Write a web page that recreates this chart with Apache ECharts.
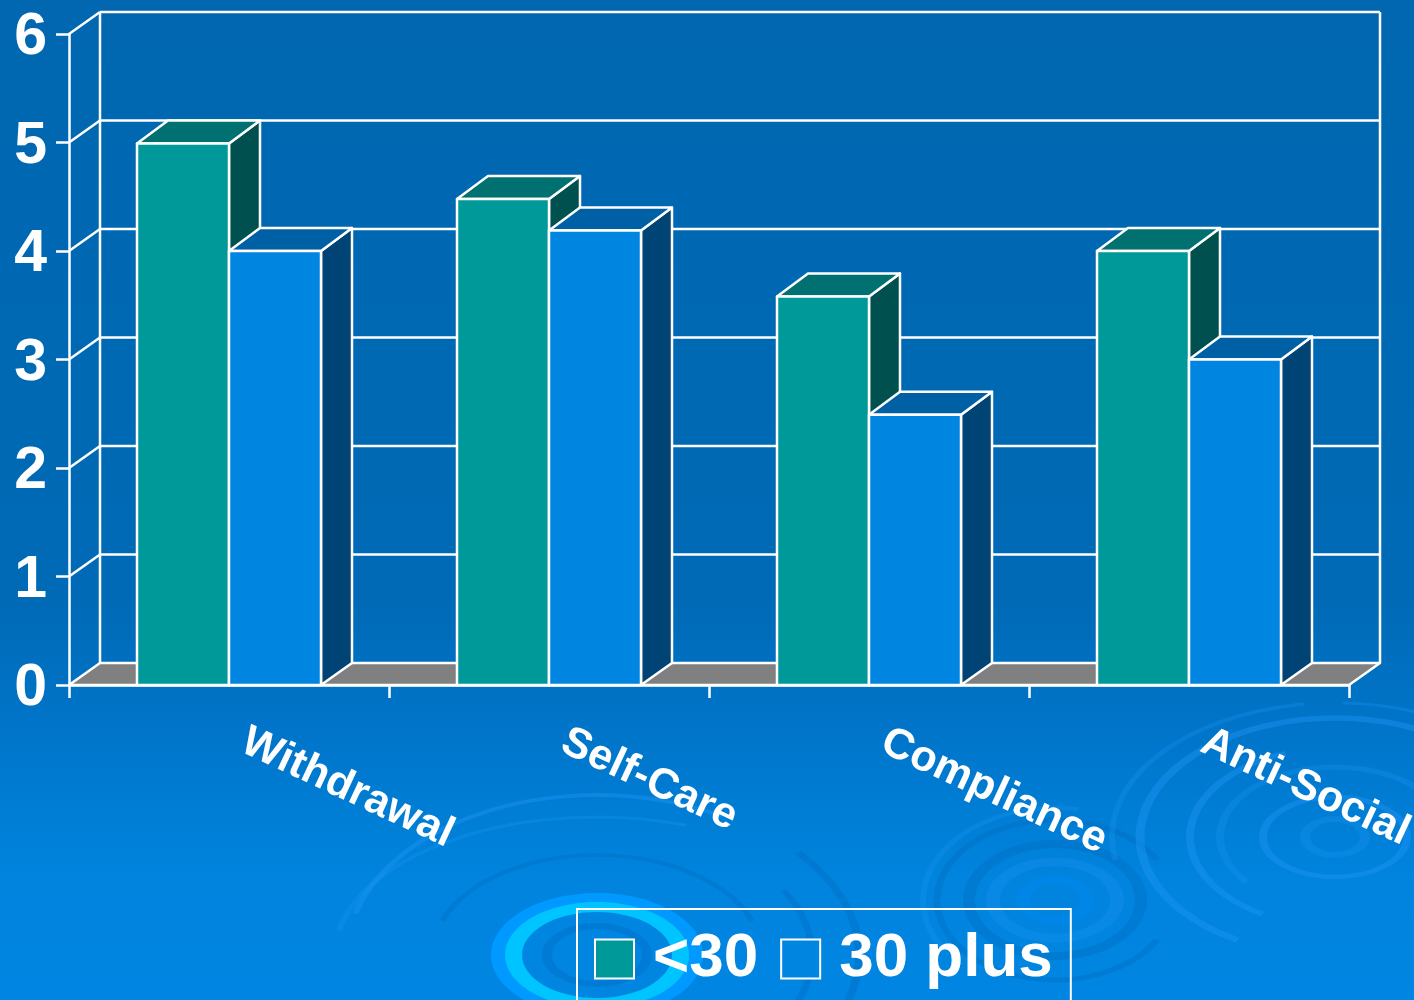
<!DOCTYPE html>
<html>
<head>
<meta charset="utf-8">
<style>html,body{margin:0;padding:0;background:#0085e2}#c{width:1414px;height:1000px}</style>
<script src="https://cdn.jsdelivr.net/npm/echarts@6/dist/echarts.min.js"></script>
</head>
<body>
<div id="c"></div>
<script>
var categories = ['Withdrawal', 'Self-Care', 'Compliance', 'Anti-Social'];
var under30 = [4.99, 4.48, 3.58, 4];
var plus30 = [4, 4.19, 2.49, 3];
var yTicks = [0, 1, 2, 3, 4, 5, 6];

var DX = 31, DY = 22, BAR = 92;
var FONT = '"Liberation Sans", Arial, sans-serif';
var WHITE = '#ffffff';
var LW = 2.5;

function ln(x1, y1, x2, y2) {
  return {type: 'line', shape: {x1: x1, y1: y1, x2: x2, y2: y2}, style: {stroke: WHITE, lineWidth: LW, fill: null}};
}
function poly(pts, fill) {
  return {type: 'polygon', shape: {points: pts}, style: {fill: fill, stroke: WHITE, lineWidth: LW, lineJoin: 'round'}};
}

function renderWall(params, api) {
  var g = params.coordSys;
  var v = api.value(0);
  var y = api.coord([0, v])[1];
  var left = g.x, right = g.x + g.width;
  var kids = [];
  if (v === 0) {
    kids.push(poly([[left, y], [left + DX, y - DY], [right + DX, y - DY], [right, y]], '#808080'));
  } else {
    kids.push(ln(left, y, left + DX, y - DY));
    kids.push(ln(left + DX, y - DY, right + DX, y - DY));
  }
  if (v === 6) {
    var y0 = api.coord([0, 0])[1];
    kids.push(ln(left + DX, y - DY, left + DX, y0 - DY));
    kids.push(ln(right + DX, y - DY, right + DX, y0 - DY));
  }
  return {type: 'group', children: kids};
}

function barRenderer(dir, front, top, side) {
  return function (params, api) {
    var cat = api.value(0), val = api.value(1);
    var c = api.coord([cat, val]), b = api.coord([cat, 0]);
    var x0 = dir < 0 ? c[0] - BAR : c[0];
    var x1 = x0 + BAR;
    var yt = c[1], yb = b[1];
    var dy = DY + 1;
    return {type: 'group', children: [
      poly([[x1, yb], [x1 + DX, yb - DY], [x1 + DX, yt - dy], [x1, yt]], side),
      poly([[x0, yt], [x0 + DX, yt - dy], [x1 + DX, yt - dy], [x1, yt]], top),
      poly([[x0, yt], [x1, yt], [x1, yb], [x0, yb]], front)
    ]};
  };
}

function ripple(cx, cy, rx, ry, w, color, a0, a1) {
  var r = Math.PI / 180;
  return {
    type: 'arc', silent: true, x: cx, y: cy, scaleY: ry / rx, z: -10,
    shape: {cx: 0, cy: 0, r: rx, startAngle: (a0 === undefined ? 0 : a0) * r, endAngle: (a1 === undefined ? 360 : a1) * r},
    style: {stroke: color, lineWidth: w, fill: null}
  };
}

var light = 'rgba(30,150,245,0.42)', dark = 'rgba(0,95,175,0.25)', faint = 'rgba(30,150,245,0.28)';
var decor = [
  {type: 'ellipse', silent: true, z: -10, shape: {cx: 597, cy: 955, rx: 106, ry: 62}, style: {fill: '#0099ff'}},
  {type: 'ellipse', silent: true, z: -10, shape: {cx: 597, cy: 955, rx: 92, ry: 53}, style: {fill: '#00c4ff'}},
  {type: 'ellipse', silent: true, z: -10, shape: {cx: 597, cy: 955, rx: 75, ry: 43}, style: {fill: '#0085e0'}},
  ripple(597, 955, 50, 29, 10, 'rgba(0,110,200,0.45)'),
  ripple(597, 955, 250, 160, 6, light, 195, 300),
  ripple(597, 955, 262, 138, 6, faint, 190, 290),
  ripple(597, 955, 165, 100, 6, dark, 200, 340),
  ripple(597, 955, 215, 130, 7, dark, -30, 60),
  ripple(597, 955, 262, 160, 8, dark, -40, 40),
  ripple(1055, 900, 32, 20, 14, 'rgba(0,135,235,0.6)'),
  ripple(1055, 900, 62, 38, 14, 'rgba(30,150,245,0.3)'),
  ripple(1055, 900, 86, 56, 12, dark),
  ripple(1055, 900, 118, 80, 7, dark, 30, 330),
  ripple(1055, 900, 132, 92, 6, faint, 150, 280),
  ripple(1335, 837, 30, 18, 10, faint),
  ripple(1335, 837, 72, 40, 8, light),
  ripple(1335, 837, 115, 70, 8, faint, 140, 350),
  ripple(1335, 837, 145, 89, 8, light, 120, 250),
  ripple(1335, 837, 195, 119, 9, light, 120, 345),
  ripple(1335, 837, 223, 134, 6, faint, 170, 262),
  ripple(1335, 837, 223, 134, 5, faint, 272, 330)
];

var option = {
  animation: false,
  backgroundColor: {
    type: 'linear', x: 0, y: 0, x2: 0, y2: 1,
    colorStops: [
      {offset: 0, color: '#0067b0'},
      {offset: 0.6, color: '#006ab6'},
      {offset: 0.72, color: '#0074c8'},
      {offset: 0.88, color: '#0084de'},
      {offset: 1, color: '#0085e2'}
    ]
  },
  graphic: {elements: decor},
  grid: {left: 69, right: 65, top: 34, bottom: 315, containLabel: false, outerBoundsMode: 'none'},
  legend: {
    left: 577, top: 909, orient: 'horizontal',
    padding: [19, 18, 40, 17],
    borderColor: WHITE, borderWidth: 2,
    itemWidth: 39, itemHeight: 39, itemGap: 22,
    icon: 'rect',
    selectedMode: false,
    textStyle: {color: WHITE, fontFamily: FONT, fontWeight: 'bold', fontSize: 62, verticalAlign: 'top', lineHeight: 7, padding: [0, 0, 0, 14]},
    data: [
      {name: '<30', itemStyle: {color: '#009999', borderColor: WHITE, borderWidth: 2}},
      {name: '30 plus', itemStyle: {color: '#0085e0', borderColor: WHITE, borderWidth: 2}}
    ]
  },
  xAxis: {
    type: 'category', data: categories,
    axisLine: {show: true, lineStyle: {color: WHITE, width: LW}},
    axisTick: {show: true, alignWithLabel: false, length: 13, lineStyle: {color: WHITE, width: LW}},
    axisLabel: {
      interval: 0, rotate: -25, margin: 48, color: WHITE,
      fontFamily: FONT, fontWeight: 'bold', fontSize: 43,
      padding: [0, 0, 0, 16]
    },
    z: 5
  },
  yAxis: {
    type: 'value', min: 0, max: 6, interval: 1,
    axisLine: {show: true, lineStyle: {color: WHITE, width: LW}},
    axisTick: {show: true, length: 13, lineStyle: {color: WHITE, width: LW}},
    axisLabel: {color: WHITE, fontFamily: FONT, fontWeight: 'bold', fontSize: 59, margin: 22, verticalAlign: 'top', lineHeight: 8},
    splitLine: {show: false},
    z: 5
  },
  series: [
    {type: 'custom', name: 'wall', silent: true, z: 1, clip: false,
     data: yTicks.map(function (v) { return [v]; }), encode: {y: 0}, renderItem: renderWall},
    {type: 'custom', name: '<30', silent: true, z: 2, clip: false, itemStyle: {color: '#009999'},
     data: under30.map(function (v, i) { return [i, v]; }), encode: {x: 0, y: 1},
     renderItem: barRenderer(-1, '#009999', '#007070', '#005050')},
    {type: 'custom', name: '30 plus', silent: true, z: 2, clip: false, itemStyle: {color: '#0085e0'},
     data: plus30.map(function (v, i) { return [i, v]; }), encode: {x: 0, y: 1},
     renderItem: barRenderer(1, '#0085e0', '#0060a6', '#004475')}
  ]
};
echarts.init(document.getElementById('c'), null, {renderer: 'canvas'}).setOption(option);
</script>
</body>
</html>
